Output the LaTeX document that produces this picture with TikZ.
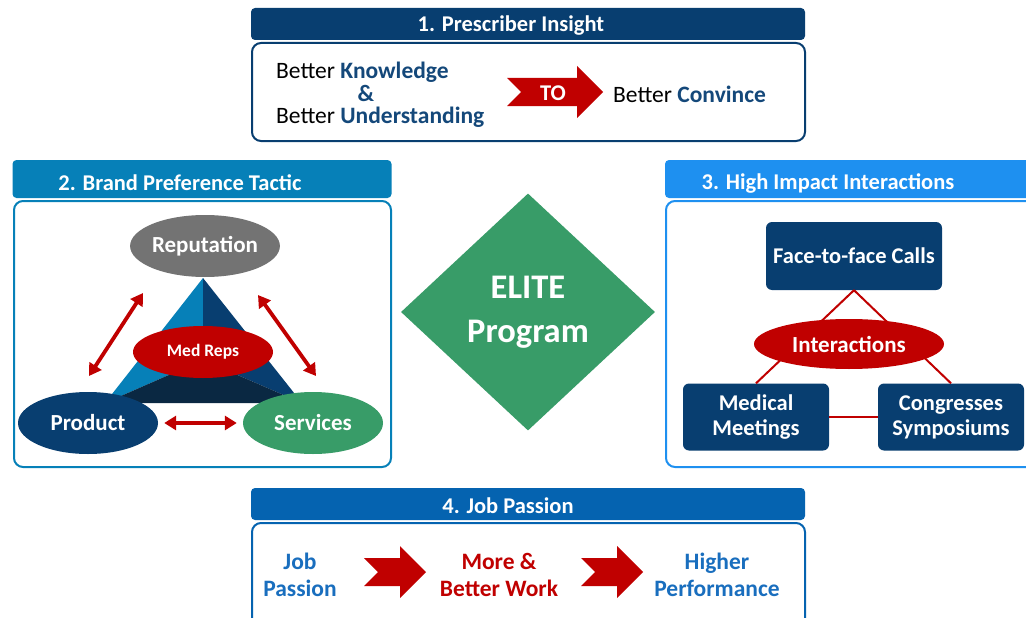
\documentclass[tikz,border=0pt]{standalone}
\usepackage{fontspec}
\setmainfont{Carlito}
\usepackage{xcolor}
\usetikzlibrary{shapes.geometric, arrows.meta, positioning}
\definecolor{corNavy}{RGB}{8, 62, 112}
\definecolor{corCeleste}{RGB}{6, 128, 184}
\definecolor{corSky}{RGB}{30, 144, 240}
\definecolor{corAzul}{RGB}{5, 99, 176}
\definecolor{corRed}{RGB}{192, 0, 0}
\definecolor{corGreen}{RGB}{56, 156, 104}
\definecolor{corGray}{RGB}{115, 115, 115}
\definecolor{corDeep}{RGB}{10, 40, 66}
\definecolor{corTexto}{RGB}{20, 72, 122}
\definecolor{corJob}{RGB}{25, 110, 190}

\begin{document}
\begin{tikzpicture}[x=1pt, y=-1pt,
    head/.style={rounded corners=4pt, minimum height=32pt, inner sep=0pt},
    title/.style={text=white, font=\bfseries\fontsize{22.5}{25}\selectfont},
    panel/.style={line width=2pt, rounded corners=9pt, fill=white},
    txt/.style={font=\fontsize{23.5}{25}\selectfont, inner sep=0pt},
    oval/.style={ellipse, minimum width=140pt, minimum height=62pt, inner sep=0pt,
                 text=white, font=\bfseries\fontsize{23}{26}\selectfont},
    blk/.style={rounded corners=6pt, fill=corNavy, text=white, align=center, inner sep=0pt,
                font=\bfseries\fontsize{22.5}{25}\selectfont},
    flow/.style={align=center, font=\bfseries\fontsize{23.5}{27}\selectfont},
    dbl/.style={draw=corRed, line width=3.8pt,
                {Triangle[width=14pt,length=12pt]}-{Triangle[width=14pt,length=12pt]}},
    link/.style={draw=corRed, line width=2pt},
    pics/notch/.style={code={\fill[corRed] (-#1,-14) -- (#1-26,-14) -- (#1-26,-26) -- (#1,0)
                 -- (#1-26,26) -- (#1-26,14) -- (-#1,14) -- (-#1+14,0) -- cycle;}}
]
\useasboundingbox (0,0) rectangle (1026,618);
\clip (0,0) rectangle (1026,618);

% 1. Prescriber Insight
\draw[panel, draw=corNavy] (252,43) rectangle (805,141);
\node[head, fill=corNavy, minimum width=554pt] (h1) at (528,24) {};
\node[title] at (511,26) {1. Prescriber Insight};
\node[txt, anchor=west] (know) at (276,72) {Better \textcolor{corTexto}{\bfseries Knowledge}};
\node[txt, text=corTexto, font=\bfseries\fontsize{23.5}{25}\selectfont] (amp) at (366,93) {\&};
\node[txt, anchor=west] (under) at (276,117) {Better \textcolor{corTexto}{\bfseries Understanding}};
\pic at (555,92) {notch=48};
\node[txt, text=white, font=\bfseries\fontsize{22.5}{25}\selectfont] (to) at (553,93) {TO};
\node[txt, anchor=west] (conv) at (613,94) {Better \textcolor{corTexto}{\bfseries Convince}};

% 2. Brand Preference Tactic
\draw[panel, draw=corCeleste] (14,201) rectangle (391,467);
\node[head, fill=corCeleste, minimum width=379pt, minimum height=38pt] (h2) at (202,179) {};
\node[title] at (180,183) {2. Brand Preference Tactic};
\fill[corCeleste] (203,278) -- (105,403) -- (203,360) -- cycle;
\fill[corNavy] (203,278) -- (203,360) -- (302,403) -- cycle;
\fill[corDeep] (105,403) -- (203,360) -- (302,403) -- cycle;
\node[oval, fill=corGray] (rep) at (205,246) {Reputation};
\node[oval, fill=corRed, minimum width=140pt, minimum height=52pt,
      font=\bfseries\fontsize{17.5}{20}\selectfont] (med) at (203,352) {Med Reps};
\node[oval, fill=corNavy] (prod) at (88,423) {Product};
\node[oval, fill=corGreen] (serv) at (313,423) {Services};
\coordinate (a1) at (143,293);
\coordinate (a2) at (89,376);
\coordinate (b1) at (258,295);
\coordinate (b2) at (316,376);
\draw[dbl] (a1) -- (a2);
\draw[dbl] (b1) -- (b2);
\draw[dbl] ([xshift=6pt]prod.east) -- ([xshift=-6pt]serv.west);

% ELITE Program
\node[diamond, fill=corGreen, minimum width=254pt, minimum height=237pt, inner sep=0pt,
      text=white, align=center, font=\bfseries\fontsize{34.5}{44}\selectfont] (elite)
      at (528,312) {ELITE\\Program};

% 3. High Impact Interactions
\draw[panel, draw=corSky] (666,201) rectangle (1040,467);
\node[head, fill=corSky, minimum width=380pt, minimum height=38pt] (h3) at (855,179) {};
\node[title] at (828,183) {3. High Impact Interactions};
\node[blk, minimum width=176pt, minimum height=68pt] (face) at (854,256) {Face-to-face Calls};
\node[blk, minimum width=146pt, minimum height=67pt] (mm) at (756,417) {Medical\\Meetings};
\node[blk, minimum width=146pt, minimum height=67pt] (cs) at (951,417) {Congresses\\Symposiums};
\draw[link] (face.south) -- (mm.north);
\draw[link] (face.south) -- (cs.north);
\draw[link] (mm) -- (cs);
\node[oval, fill=corRed, minimum width=190pt, minimum height=50pt,
      font=\bfseries\fontsize{23}{26}\selectfont] (inter) at (849,344) {Interactions};

% 4. Job Passion
\draw[panel, draw=corAzul] (252,523) rectangle (805,650);
\node[head, fill=corAzul, minimum width=554pt] (h4) at (528,504) {};
\node[title] at (508,506) {4. Job Passion};
\node[flow, text=corJob] (job) at (300,575) {Job\\Passion};
\pic at (395,572) {notch=31};
\node[flow, text=corRed] (work) at (499,575) {More \&\\Better Work};
\pic at (612,572) {notch=31};
\node[flow, text=corJob] (perf) at (717,575) {Higher\\Performance};
\end{tikzpicture}
\end{document}
